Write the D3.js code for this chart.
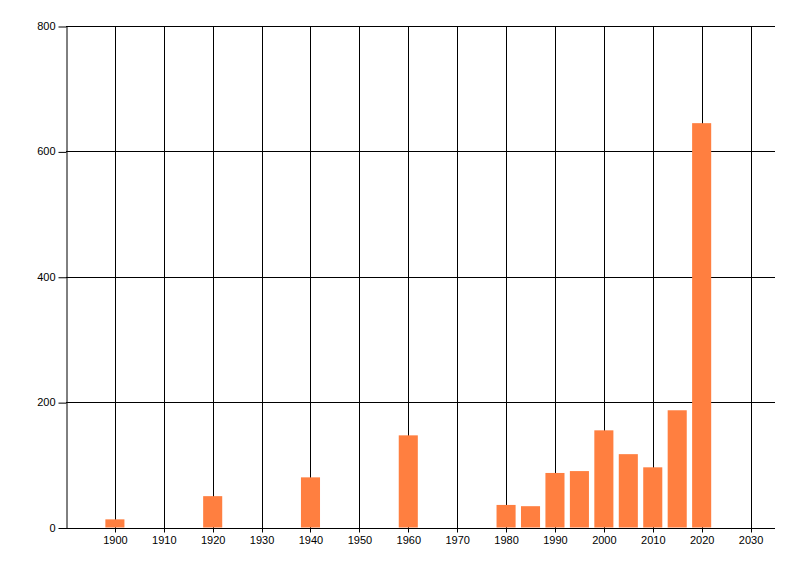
<!DOCTYPE html>
<html>
<head>
<meta charset="utf-8">
<script src="https://cdn.jsdelivr.net/npm/d3@7"></script>
<style>
  body { margin: 0; background: #fff; }
  .tick text { font-family: "Liberation Sans", Arial, sans-serif; font-size: 11px; fill: #000; }
</style>
</head>
<body>
<svg id="chart"></svg>
<script>
// values
const years = [1900, 1920, 1940, 1960, 1980, 1985, 1990, 1995, 2000, 2005, 2010, 2015, 2020];
const counts = [13, 50, 80, 147, 36, 34, 87, 90, 155, 117, 96, 187, 645];
const xTicks = [1900, 1910, 1920, 1930, 1940, 1950, 1960, 1970, 1980, 1990, 2000, 2010, 2020, 2030];
const yTicks = [0, 200, 400, 600, 800];

const width = 800, height = 576;
const margin = { top: 26, right: 25, bottom: 48.5, left: 66 };
const w = width - margin.left - margin.right;
const h = height - margin.top - margin.bottom;

const svg = d3.select('#chart').attr('width', width).attr('height', height);
const g = svg.append('g').attr('transform', `translate(${margin.left},${margin.top})`);

const x = d3.scaleLinear().domain([1890, 2035]).range([0, w]);
const y = d3.scaleLinear().domain([0, 800]).range([h, 0]);

// horizontal grid
g.append('g')
  .selectAll('line')
  .data(yTicks)
  .join('line')
  .attr('x1', 0).attr('x2', w)
  .attr('y1', d => Math.round(y(d)) + 0.5).attr('y2', d => Math.round(y(d)) + 0.5)
  .attr('stroke', '#000');

// vertical grid
g.append('g')
  .selectAll('line')
  .data(xTicks)
  .join('line')
  .attr('x1', d => Math.round(x(d)) + 0.5).attr('x2', d => Math.round(x(d)) + 0.5)
  .attr('y1', 0).attr('y2', h + 5)
  .attr('stroke', '#000');

// bars
const half = 1.95;
g.selectAll('.bar')
  .data(years.map((yr, i) => ({ yr, v: counts[i] })))
  .join('rect')
  .attr('class', 'bar')
  .attr('x', d => x(d.yr - half))
  .attr('width', d => x(d.yr + half) - x(d.yr - half))
  .attr('y', d => y(d.v))
  .attr('height', d => h - y(d.v))
  .attr('fill', '#ff7f40');

// axes
const yAxis = g.append('g')
  .attr('transform', 'translate(0.5,0)')
  .call(d3.axisLeft(y).tickValues(yTicks).tickSizeInner(8).tickSizeOuter(0).tickPadding(3));
yAxis.select('.domain').attr('stroke', '#000');
yAxis.selectAll('.tick line').attr('transform', 'translate(0,0.5)');

const xAxis = g.append('g')
  .attr('transform', `translate(0,${Math.round(h) + 0.5})`)
  .call(d3.axisBottom(x).tickValues(xTicks).tickFormat(d3.format('d')).tickSize(0).tickPadding(8));
xAxis.select('.domain').remove();
</script>
</body>
</html>
